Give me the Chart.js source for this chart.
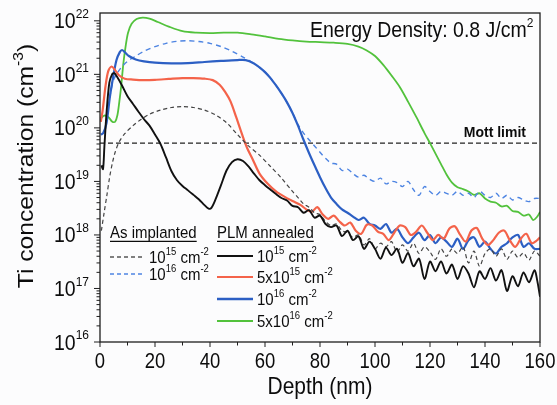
<!DOCTYPE html>
<html><head><meta charset="utf-8">
<script src="https://cdn.jsdelivr.net/npm/chart.js@4"></script>
<style>html,body{margin:0;padding:0;background:#fcfcfd}</style>
</head><body>
<canvas id="c" width="557" height="405"></canvas>
<script>
// ---- data: [depth (nm), Ti concentration (cm^-3)] ----
const xTicks = [0, 20, 40, 60, 80, 100, 120, 140, 160];
const yDecades = [16, 17, 18, 19, 20, 21, 22];
const mottLimit = 5.2e19;

const plm1e15 = [[0.5,2.0e19],[1.1,1.7e19],[1.6,4.5e19],[2.4,2.0e20],[3.4,7e20],[4.4,1.0e21],[5.2,1.05e21],[6.2,9e20],[8,6.2e20],[10,3.9e20],[12,2.8e20],[14,2.0e20],[16,1.45e20],[18,1.1e20],[20,7.5e19],[22,5e19],[24,2.8e19],[26,1.55e19],[28,1.05e19],[30,8.2e18],[32,6.8e18],[34,5.6e18],[36,4.6e18],[38,3.6e18],[39.5,3.1e18],[40.5,3.2e18],[42,4.6e18],[44,8.5e18],[46,1.6e19],[48,2.3e19],[50,2.6e19],[52,2.4e19],[54,1.9e19],[56,1.4e19],[58,1.05e19],[60,8.5e18],[62,7e18],[64,5.8e18],[66,4.9e18],[68,4.4e18],[70,3.5e18],[72,3.3e18],[74,2.6e18],[76,2.9e18],[78,2.1e18],[80,2.3e18],[82,1.6e18],[84,1.4e18],[86,1.5e18],[88,9.5e17],[90,1.2e18],[92,8e17],[94,9.5e17],[96,5.5e17],[98,7.5e17],[100,5.5e17],[102,3.6e17],[104,5.8e17],[106,4.2e17],[108,5.5e17],[110,3.0e17],[112,4.6e17],[114,2.6e17],[116,3.6e17],[118,1.5e17],[120,3.2e17],[122,2.1e17],[124,3.2e17],[126,1.9e17],[128,2.8e17],[130,1.5e17],[132,2.6e17],[134,1.9e17],[136,1.05e17],[138,2.1e17],[140,1.5e17],[142,2.4e17],[144,1.4e17],[146,2.2e17],[148,9e16],[150,1.7e17],[152,1.1e17],[154,2.0e17],[156,1.3e17],[158,2.2e17],[159,1.4e17],[160,7e16]];

const imp1e15 = [[0.5,1.2e18],[1.5,2.6e18],[2.5,5.5e18],[3.5,1.2e19],[4.5,2.2e19],[5.5,3.5e19],[7,5.5e19],[9,7.8e19],[12,1.1e20],[15,1.45e20],[18,1.8e20],[22,2.15e20],[26,2.4e20],[30,2.5e20],[34,2.4e20],[38,2.15e20],[42,1.75e20],[46,1.25e20],[50,7.5e19],[54,4.6e19],[58,3.1e19],[62,1.9e19],[66,1.15e19],[70,6.5e18],[72,5e18],[74,3.8e18],[76,3.3e18],[78,2.6e18],[80,2.4e18],[82,1.8e18],[84,1.5e18],[86,1.6e18],[88,1.2e18],[90,1.1e18],[92,9e17],[94,1.0e18],[96,6.5e17],[98,8.5e17],[100,5.5e17],[102,7e17],[104,6e17],[106,7.5e17],[108,4.8e17],[110,6.5e17],[112,5e17],[114,7e17],[116,4.5e17],[118,6e17],[120,4.8e17],[122,3.5e17],[124,5.5e17],[126,4e17],[128,5.5e17],[130,4.5e17],[132,6e17],[134,3e17],[136,5e17],[138,2.6e17],[140,4.5e17],[142,5.5e17],[144,4e17],[146,5.5e17],[148,3.5e17],[150,5e17],[152,3.8e17],[154,4.6e17],[156,3.4e17],[158,5e17],[160,4e17]];

const plm5e15 = [[0.3,1.3e20],[1,2.2e20],[2,6e20],[3,1.15e21],[4.2,1.4e21],[5.5,1.2e21],[7,9.5e20],[9,8.3e20],[12,8e20],[16,7.8e20],[20,7.9e20],[25,8.2e20],[30,8.5e20],[34,8.5e20],[38,8.3e20],[41,7.8e20],[43.5,6.4e20],[45.5,4.7e20],[47.5,3.1e20],[49.5,1.6e20],[51.5,8e19],[53.5,4.2e19],[55.5,2.6e19],[58,1.4e19],[61,9e18],[64,6.5e18],[67,5.2e18],[70,4.3e18],[73,3.6e18],[75,3.0e18],[77,2.7e18],[79,3.3e18],[81,2.4e18],[83,2.0e18],[85,2.3e18],[87,1.8e18],[89,1.5e18],[91,1.7e18],[93,1.2e18],[95,1.05e18],[97,1.55e18],[99,1.5e18],[101,1.15e18],[103,1.05e18],[105,8e17],[107,1.1e18],[109,1.5e18],[111,1.4e18],[113,1.0e18],[115,1.15e18],[117,1.5e18],[119,1.1e18],[121,8e17],[123,1.0e18],[125,8.5e17],[127,1.3e18],[129,1.45e18],[131,1.0e18],[133,7.5e17],[135,1.2e18],[137,1.35e18],[139,8.5e17],[141,6.5e17],[143,8e17],[145,1.1e18],[147,1.2e18],[149,8e17],[151,6e17],[153,8.5e17],[155,1.05e18],[157,7e17],[159,8e17],[160,9e17]];

const plm1e16 = [[0.3,7.5e19],[1.2,8e19],[2.4,1.25e20],[3.6,3.8e20],[4.8,9e20],[6,1.85e21],[7.2,2.6e21],[8,2.85e21],[9,2.6e21],[10.5,2.2e21],[13,1.9e21],[16,1.75e21],[20,1.65e21],[26,1.6e21],[32,1.62e21],[38,1.7e21],[44,1.78e21],[50,1.85e21],[53,1.85e21],[56,1.6e21],[58,1.35e21],[60,1.1e21],[62,8.5e20],[64,6.2e20],[66,4.4e20],[68,3e20],[70,1.9e20],[72,1.1e20],[74,6e19],[76,3.4e19],[78,2e19],[80,1.2e19],[82,7.5e18],[84,5e18],[86,3.8e18],[88,3.0e18],[90,2.6e18],[92,2.2e18],[94,1.9e18],[96,2.1e18],[98,1.6e18],[100,1.5e18],[102,1.3e18],[104,1.6e18],[106,1.1e18],[108,1.3e18],[110,9e17],[112,7e17],[114,9e17],[116,1.1e18],[118,8e17],[120,1.0e18],[122,7e17],[124,9e17],[126,7.5e17],[128,6e17],[130,8.5e17],[132,5.5e17],[134,8e17],[136,9e17],[138,6e17],[140,7.5e17],[142,5.5e17],[144,4.5e17],[146,6e17],[148,7e17],[150,9e17],[152,1.0e18],[154,6e17],[156,7e17],[158,5.5e17],[160,5.5e17]];

const imp1e16 = [[3,2.5e20],[4,5e20],[5,8e20],[6.5,1.1e21],[8,1.4e21],[10,1.75e21],[13,2.2e21],[16,2.7e21],[20,3.3e21],[24,3.8e21],[28,4.15e21],[32,4.25e21],[36,4.1e21],[40,3.8e21],[44,3.3e21],[48,2.7e21],[52,2.1e21],[56,1.6e21],[60,1.1e21],[62,8.5e20],[64,6.2e20],[66,4.4e20],[68,3e20],[70,1.9e20],[72,1.15e20],[74,8e19],[76,6e19],[78,4.6e19],[80,3.5e19],[82,2.7e19],[84,2.2e19],[86,2.1e19],[88,1.6e19],[90,1.7e19],[92,1.4e19],[94,1.2e19],[96,1.3e19],[98,1.1e19],[100,1.0e19],[102,1.15e19],[104,9e18],[106,1.0e19],[108,9.5e18],[110,8e18],[112,1.0e19],[114,7e18],[116,5.5e18],[118,8e18],[120,6.5e18],[122,5.5e18],[124,6.5e18],[126,6e18],[128,5.5e18],[130,6.5e18],[132,5.5e18],[134,6e18],[136,5e18],[138,6.5e18],[140,5.5e18],[142,5e18],[144,6e18],[146,4.8e18],[148,5.5e18],[150,4.5e18],[152,5e18],[154,4.5e18],[156,4.2e18],[158,4.8e18],[160,4.8e18]];

const plm5e16 = [[0.3,1.5e20],[1.5,1.7e20],[3,1.6e20],[4.5,1.3e20],[5.5,1.3e20],[6.3,1.7e20],[7,3e20],[7.7,6e20],[8.5,1.6e21],[9.3,3.3e21],[10.2,6e21],[11.5,8.8e21],[13.3,1.08e22],[15.5,1.15e22],[18,1.1e22],[21,9.5e21],[25,7.8e21],[30,6.4e21],[35,6e21],[40,5.9e21],[45,6e21],[50,6e21],[55,5.6e21],[60,5.1e21],[65,4.6e21],[70,4.3e21],[75,4.1e21],[80,4.0e21],[85,3.9e21],[90,3.7e21],[94,3.3e21],[97,2.8e21],[100,2.2e21],[103,1.5e21],[106,9.5e20],[109,5.8e20],[112,3.1e20],[115,1.6e20],[118,8e19],[120,5.2e19],[122,3.3e19],[124,2.1e19],[126,1.35e19],[128,9.5e18],[130,7.8e18],[132,7.2e18],[134,6.5e18],[136,5.6e18],[138,6e18],[140,4.8e18],[142,4.2e18],[144,4e18],[146,3.4e18],[148,3.5e18],[150,2.8e18],[152,2.7e18],[154,2.3e18],[156,2.4e18],[157.5,1.9e18],[159,2.2e18],[160,2.7e18]];

// ---- helpers ----
const FAM = '"Liberation Sans", Arial, Helvetica, sans-serif';
const pts = arr => arr.map(p => ({x: p[0], y: p[1]}));
function richText(ctx, parts, x, y, o) {
  const size = o.size, supSize = o.supSize || Math.round(size * 0.62);
  const w8 = o.bold ? 'bold ' : '';
  const fB = w8 + size + 'px ' + FAM, fS = w8 + supSize + 'px ' + FAM;
  let w = 0;
  const segs = parts.map(p => {
    const sup = typeof p === 'object';
    const t = sup ? p.s : p;
    ctx.font = sup ? fS : fB;
    const mw = ctx.measureText(t).width;
    w += mw;
    return {t, sup, mw};
  });
  ctx.save();
  ctx.translate(x, y);
  if (o.rot) ctx.rotate(o.rot);
  ctx.scale(o.sx || 1, o.sy || 1);
  let cx = o.align === 'center' ? -w / 2 : o.align === 'right' ? -w : 0;
  const x0 = cx;
  ctx.fillStyle = o.color || '#0c0c0c';
  ctx.textBaseline = 'alphabetic';
  ctx.textAlign = 'left';
  segs.forEach(s => {
    ctx.font = s.sup ? fS : fB;
    ctx.fillText(s.t, cx, s.sup ? -(o.raise || size * 0.42) : 0);
    cx += s.mw;
  });
  if (o.underline) {
    ctx.strokeStyle = o.color || '#0c0c0c';
    ctx.lineWidth = 1.1;
    ctx.beginPath(); ctx.moveTo(x0, 3); ctx.lineTo(cx, 3); ctx.stroke();
  }
  ctx.restore();
  return w;
}

const decorPlugin = {
  id: 'decor',
  beforeDraw(chart) {
    const ctx = chart.ctx;
    ctx.save(); ctx.fillStyle = '#fcfcfd'; ctx.fillRect(0, 0, chart.width, chart.height); ctx.restore();
  },
  afterDraw(chart) {
    const ctx = chart.ctx, a = chart.chartArea;
    const xs = chart.scales.x, ys = chart.scales.y;
    ctx.save();
    // frame
    ctx.strokeStyle = '#1e1e1e'; ctx.lineWidth = 1.3;
    ctx.strokeRect(a.left, a.top, a.right - a.left, a.bottom - a.top);
    // y ticks
    ctx.lineWidth = 1;
    ctx.beginPath();
    yDecades.forEach(e => {
      const py = ys.getPixelForValue(Math.pow(10, e));
      ctx.moveTo(a.left, py); ctx.lineTo(a.left - 6, py);
      if (e < 22) for (let k = 2; k <= 9; k++) {
        const pm = ys.getPixelForValue(k * Math.pow(10, e));
        ctx.moveTo(a.left, pm); ctx.lineTo(a.left - 3.5, pm);
      }
    });
    // x ticks
    for (let d = 0; d <= 160; d += 10) {
      const px = xs.getPixelForValue(d);
      ctx.moveTo(px, a.bottom); ctx.lineTo(px, a.bottom + (d % 20 === 0 ? 5 : 3.5));
    }
    ctx.stroke();
    // tick labels
    xTicks.forEach(d => richText(ctx, [String(d)], xs.getPixelForValue(d), 368, {size: 18.5, sy: 1.15, align: 'center'}));
    yDecades.forEach(e => {
      const py = ys.getPixelForValue(Math.pow(10, e));
      richText(ctx, ['10', {s: String(e)}], 89, py + 7.5, {size: 19.5, supSize: 12, raise: 9, sy: 1.12, align: 'right'});
    });
    // axis titles
    richText(ctx, ['Depth (nm)'], 320, 394, {size: 21, sy: 1.1, align: 'center'});
    richText(ctx, ['Ti concentration (cm', {s: '-3'}, ')'], 33, 166, {size: 22, supSize: 14, raise: 10, rot: -Math.PI / 2, sx: 1.12, align: 'center'});
    // annotations
    richText(ctx, ['Energy Density: 0.8 J/cm', {s: '2'}], 310, 37, {size: 19.5, supSize: 12, raise: 9, sy: 1.1});
    richText(ctx, ['Mott limit'], 526, 137, {size: 14, bold: true, sy: 1.1, align: 'right'});
    // legend
    richText(ctx, ['As implanted'], 110, 238, {size: 15, sy: 1.1, underline: true});
    richText(ctx, ['PLM annealed'], 217, 238, {size: 15, sy: 1.1, underline: true});
    const entry = (x1, x2, y, color, lw, dash, label) => {
      ctx.save(); ctx.strokeStyle = color; ctx.lineWidth = lw; ctx.setLineDash(dash);
      ctx.beginPath(); ctx.moveTo(x1, y); ctx.lineTo(x2, y); ctx.stroke(); ctx.restore();
      richText(ctx, label, x2 + 4, y + 5.5, {size: 15, supSize: 9.5, raise: 6.5, sy: 1.1});
    };
    entry(110, 145, 257, '#555', 1.3, [4, 3], ['10', {s: '15'}, ' cm', {s: '-2'}]);
    entry(110, 145, 274, '#4d84e2', 1.3, [4, 3], ['10', {s: '16'}, ' cm', {s: '-2'}]);
    entry(217, 253, 256, '#111', 2, [], ['10', {s: '15'}, ' cm', {s: '-2'}]);
    entry(217, 253, 277, '#f4634a', 2, [], ['5x10', {s: '15'}, ' cm', {s: '-2'}]);
    entry(217, 253, 299, '#2c5fc4', 2.4, [], ['10', {s: '16'}, ' cm', {s: '-2'}]);
    entry(217, 253, 321, '#52c23c', 2, [], ['5x10', {s: '16'}, ' cm', {s: '-2'}]);
    ctx.restore();
  }
};

new Chart(document.getElementById('c'), {
  type: 'line',
  data: {
    datasets: [
      {label: 'PLM 1e15', data: pts(plm1e15), borderColor: '#111', borderWidth: 1.9},
      {label: 'As implanted 1e15', data: pts(imp1e15), borderColor: '#444', borderWidth: 1.2, borderDash: [4, 3]},
      {label: 'PLM 5e15', data: pts(plm5e15), borderColor: '#f4634a', borderWidth: 2.2},
      {label: 'PLM 1e16', data: pts(plm1e16), borderColor: '#2c5fc4', borderWidth: 2.2},
      {label: 'As implanted 1e16', data: pts(imp1e16), borderColor: '#4d84e2', borderWidth: 1.4, borderDash: [5, 4]},
      {label: 'PLM 5e16', data: pts(plm5e16), borderColor: '#52c23c', borderWidth: 1.8},
      {label: 'Mott limit', data: [{x: 0, y: mottLimit}, {x: 160, y: mottLimit}], borderColor: '#222', borderWidth: 1.3, borderDash: [5, 3], tension: 0}
    ]
  },
  options: {
    responsive: false,
    devicePixelRatio: 1,
    animation: false,
    events: [],
    layout: {padding: {left: 100, right: 17, top: 13, bottom: 63}},
    elements: {point: {radius: 0}, line: {tension: 0.3, fill: false}},
    plugins: {legend: {display: false}, tooltip: {enabled: false}, title: {display: false}},
    scales: {
      x: {type: 'linear', min: 0, max: 160, bounds: 'data',
          grid: {display: false}, border: {display: false}, ticks: {display: false},
          afterFit: s => { s.height = 0; }},
      y: {type: 'logarithmic', min: 1e16, max: 1.4e22, bounds: 'data',
          grid: {display: false}, border: {display: false}, ticks: {display: false},
          afterFit: s => { s.width = 0; }}
    }
  },
  plugins: [decorPlugin]
});
</script>
</body></html>
